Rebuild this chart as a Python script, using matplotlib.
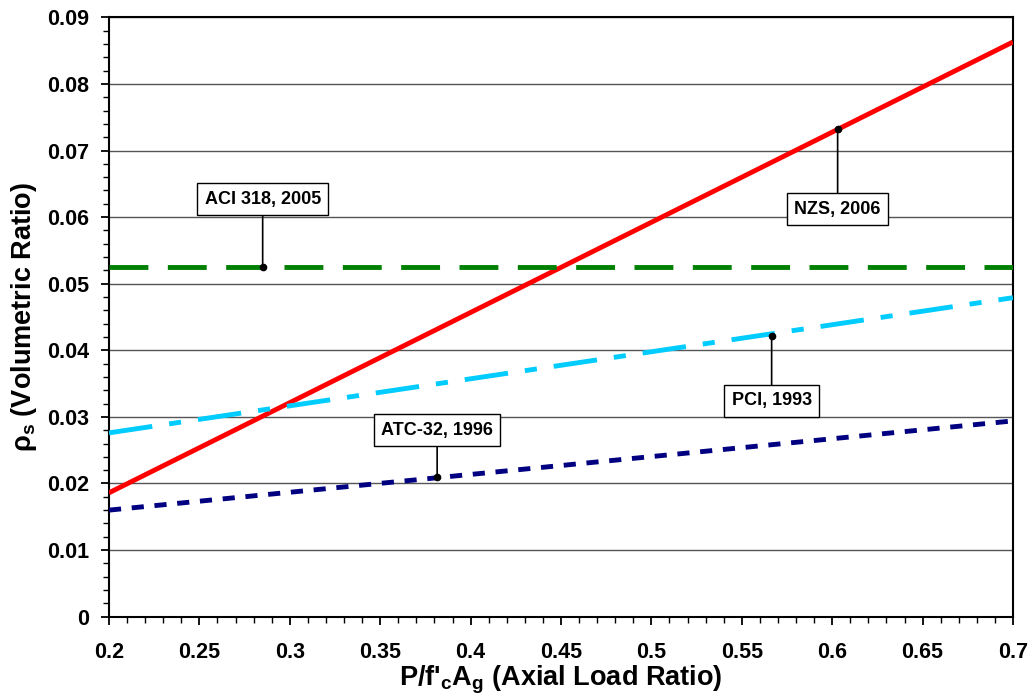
import matplotlib
matplotlib.use("Agg")
import matplotlib.pyplot as plt
from matplotlib.ticker import MultipleLocator, FormatStrFormatter

plt.rcParams['font.family'] = ['Liberation Sans', 'DejaVu Sans']
plt.rcParams['font.weight'] = 'bold'
plt.rcParams['mathtext.fontset'] = 'custom'
plt.rcParams['mathtext.rm'] = 'Liberation Sans:bold'
plt.rcParams['mathtext.it'] = 'Liberation Sans:bold'
plt.rcParams['mathtext.bf'] = 'Liberation Sans:bold'

# axial load ratio at the ends of each line
x_ends = [0.2, 0.7]

nzs_2006 = [0.0186, 0.0863]
aci_2005 = [0.0525, 0.0525]
pci_1993 = [0.0276, 0.0479]
atc_1996 = [0.0160, 0.0294]

# label text, point on the curve, label position
labels = ["ACI 318, 2005", "NZS, 2006", "PCI, 1993", "ATC-32, 1996"]
label_pts = [(0.285, 0.0525), (0.603, 0.0732), (0.5665, 0.0421), (0.3815, 0.0209)]
label_pos = [(0.285, 0.0627), (0.603, 0.0612), (0.5665, 0.0324), (0.3815, 0.0280)]


fig = plt.figure(figsize=(10.34, 6.98), dpi=100)
ax = fig.add_axes([0.1054, 0.1165, 0.8743, 0.8587])

ax.plot(x_ends, nzs_2006, color='#FF0000', lw=3.5, solid_capstyle='butt', zorder=3)
ax.plot(x_ends, aci_2005, color='#008000', lw=3.5, dashes=(8, 4), zorder=3)
ax.plot(x_ends, pci_1993, color='#00CCFF', lw=3.5, dashes=(9, 3.5, 2.5, 3.5), zorder=3)
ax.plot(x_ends, atc_1996, color='#000080', lw=3.5, dashes=(2.5, 2.2), zorder=3)

for txt, pt, pos in zip(labels, label_pts, label_pos):
    ax.annotate(txt, xy=pt, xytext=pos, ha='center', va='center',
                fontsize=13, fontweight='bold',
                bbox=dict(boxstyle='square,pad=0.4', fc='white', ec='black', lw=1),
                arrowprops=dict(arrowstyle='-', color='black', lw=1.2,
                                shrinkA=0, shrinkB=0), zorder=5)
    ax.plot(pt[0], pt[1], 'o', color='black', ms=4.5, zorder=6)

ax.set_xlim(0.2, 0.7)
ax.set_ylim(0, 0.09)
ax.xaxis.set_major_locator(MultipleLocator(0.05))
ax.xaxis.set_minor_locator(MultipleLocator(0.01))
ax.yaxis.set_major_locator(MultipleLocator(0.01))
ax.yaxis.set_minor_locator(MultipleLocator(0.002))
ax.xaxis.set_major_formatter(FormatStrFormatter('%g'))
ax.yaxis.set_major_formatter(FormatStrFormatter('%g'))

ax.grid(axis='y', which='major', color='#555555', lw=1)
ax.set_axisbelow(True)
ax.tick_params(which='major', direction='out', length=6, width=1.3, labelsize=15.5)
ax.tick_params(axis='x', which='major', pad=12)
ax.tick_params(axis='y', which='major', pad=8)
ax.tick_params(which='minor', direction='out', length=4, width=1)
for lab in ax.get_xticklabels() + ax.get_yticklabels():
    lab.set_fontweight('bold')
for s in ax.spines.values():
    s.set_linewidth(1.5)

ax.set_xlabel("P/f'$_\\mathregular{c}$A$_\\mathregular{g}$ (Axial Load Ratio)",
              fontsize=19.5, fontweight='bold', labelpad=1)
ax.set_ylabel("ρ$_\\mathregular{s}$ (Volumetric Ratio)",
              fontsize=19.5, fontweight='bold', labelpad=6)

fig.savefig("out.png", dpi=100)
